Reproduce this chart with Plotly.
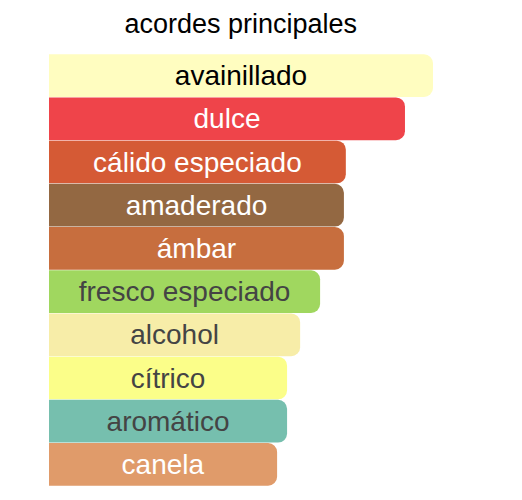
import plotly.graph_objects as go

# accords, top to bottom
accords = [
    "avainillado", "dulce", "cálido especiado", "amaderado", "ámbar",
    "fresco especiado", "alcohol", "cítrico", "aromático", "canela",
]
strength = [100, 92.7, 77.3, 76.8, 76.8, 70.6, 65.4, 62.0, 62.0, 59.4]
bar_colors = [
    "#FFFDC0", "#EF444A", "#D55A35", "#936842", "#C76E3E",
    "#A0D75F", "#F7EDA8", "#FBFE89", "#76BFAE", "#E09B6A",
]
text_colors = [
    "#000000", "#FFFFFF", "#FFFFFF", "#FFFFFF", "#FFFFFF",
    "#444444", "#444444", "#444444", "#444444", "#FFFFFF",
]

fig = go.Figure(
    go.Bar(
        x=strength,
        y=accords,
        orientation="h",
        marker=dict(color=bar_colors, line=dict(width=0)),
        text=accords,
        textposition="inside",
        insidetextanchor="middle",
        textangle=0,
        textfont=dict(size=28, color=text_colors, family="Arial, Liberation Sans, sans-serif"),
        hoverinfo="skip",
    )
)

fig.update_layout(
    width=522,
    height=500,
    title=dict(
        text="acordes principales",
        x=0.446,
        xanchor="center",
        y=0.968,
        yanchor="middle",
        yref="container",
        font=dict(size=27, color="#000000", family="Arial, Liberation Sans, sans-serif"),
    ),
    margin=dict(l=41, r=97, t=46, b=22),
    bargap=0.012,
    barcornerradius=9,
    uniformtext=dict(minsize=10, mode="show"),
    plot_bgcolor="white",
    paper_bgcolor="white",
    showlegend=False,
    xaxis=dict(range=[0, 100], visible=False, fixedrange=True),
    yaxis=dict(autorange="reversed", visible=False, fixedrange=True),
)

fig.write_html("out.html", config={"displayModeBar": False})
